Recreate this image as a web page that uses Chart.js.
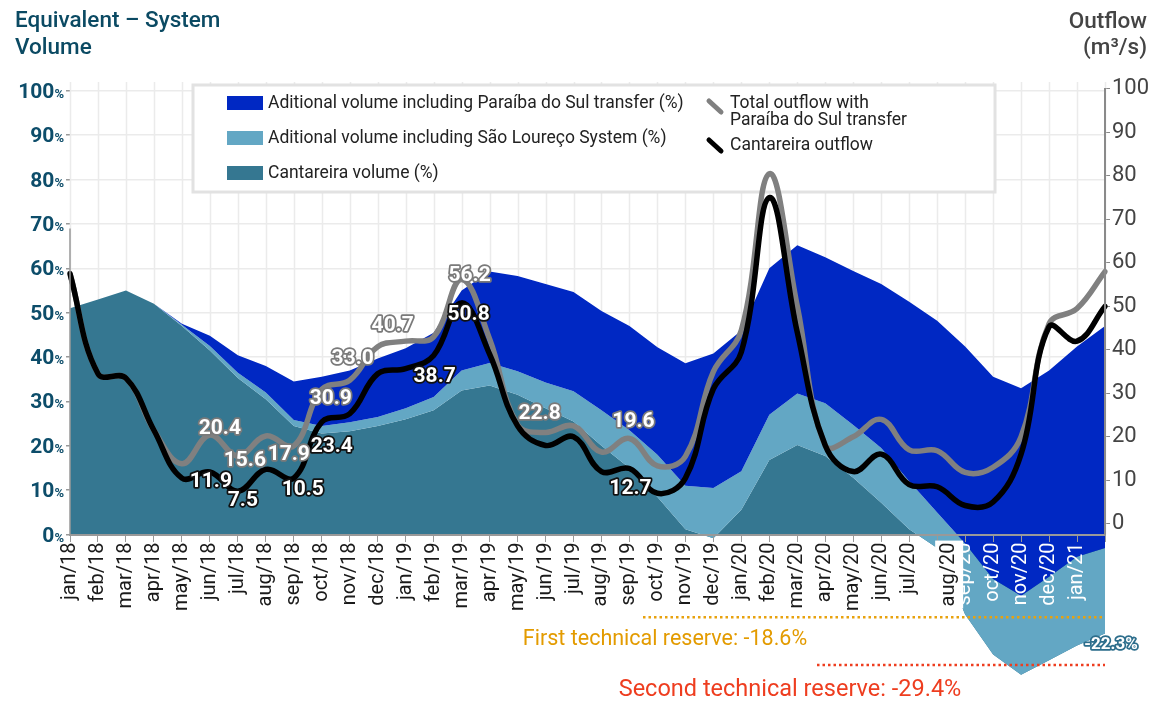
<!DOCTYPE html>
<html>
<head>
<meta charset="utf-8">
<script src="https://cdn.jsdelivr.net/npm/chart.js@4.4.1/dist/chart.umd.min.js"></script>
<style>
  html, body { margin: 0; padding: 0; background: #fff; }
</style>
</head>
<body>
<canvas id="chart" width="1171" height="702"></canvas>
<script>
// months on the x axis (last point has no label in the original)
const months = ['jan/18','feb/18','mar/18','apr/18','may/18','jun/18','jul/18','aug/18','sep/18','oct/18','nov/18','dec/18',
  'jan/19','feb/19','mar/19','apr/19','may/19','jun/19','jul/19','aug/19','sep/19','oct/19','nov/19','dec/19',
  'jan/20','feb/20','mar/20','apr/20','may/20','jun/20','jul/20','aug/20','sep/20','oct/20','nov/20','dec/20',
  'jan/21',''];

// equivalent system volume (%), left axis
const paraibaVolume = [51, 53, 55, 52, 47.5, 44.8, 40.4, 38, 34.5, 35.6, 37, 39.7, 42, 45.5, 55, 59.3, 58.3, 56.5, 54.7, 50.4,
  47, 42.2, 38.6, 40.8, 46, 60, 65.2, 62.5, 59.4, 56.5, 52.5, 48.2, 42.4, 35.6, 33, 37, 42.4, 47];
const saoLourencoVolume = [51, 53, 55, 52, 47.3, 42.5, 36.5, 32, 25.8, 24.5, 25.3, 26.5, 28.5, 31, 37, 38.7, 36.8, 34.3, 32.3, 28,
  23.5, 18, 11, 10.5, 14.3, 27, 31.8, 29.6, 24.7, 19.5, 12, 5, -2, -10, -13.8, -9.5, -5, -3];
const cantareiraVolume = [51, 53, 55, 52, 47, 41.5, 35.3, 30.5, 24.5, 22.8, 23.3, 24.5, 26, 28, 32.5, 33.6, 31.5, 28.5, 25.5, 20,
  15, 8.5, 1.2, -0.8, 5.6, 16.8, 20.2, 17.7, 12.8, 7.2, 1.2, -3, -18, -27, -31.6, -28.3, -25, -22.3];

// outflow (m3/s), right axis
const totalOutflow = [57.5, 34.5, 33.5, 21.5, 13.8, 20.4, 15.6, 20.2, 17.9, 30.9, 33.0, 40.7, 42, 43, 56.2, 42.5, 22.8, 21, 22.5, 16.5,
  19.6, 13.3, 15.5, 35, 44.5, 80.5, 50, 18, 20, 24, 17, 16.8, 11.8, 13, 20, 46, 49.5, 58];
const cantareiraOutflow = [57.5, 34.5, 33.5, 21.5, 10.5, 11.9, 7.5, 12.5, 10.5, 23.4, 25.3, 34.5, 35.7, 38.7, 50.8, 39, 22.5, 18, 20, 12,
  12.7, 7, 10.5, 31, 39.5, 75, 44, 18, 12, 16, 9, 8.5, 4.2, 5, 16, 45.3, 42, 50];

// which points carry a value label
const totalLabelIdx = [5, 6, 8, 9, 10, 11, 14, 16, 20];
const cantareiraLabelIdx = [5, 6, 8, 9, 13, 14, 20];

const axisTicks = [0, 10, 20, 30, 40, 50, 60, 70, 80, 90, 100];
const firstReserve = -18.6;
const secondReserve = -29.4;

// label offsets from their point (px)
const totalLabelOffset = [[10, -6], [7, 5], [-5, 9], [9, 9], [3, -22], [15, -21], [8, -4], [22, -11], [4, -17]];
const cantareiraLabelOffset = [[1, 10], [5, 10], [9, 12], [10, 25], [1, 21], [7, 12], [1, 20]];

const FONT = 'Roboto, "DejaVu Sans", sans-serif';
const DARK_BLUE = '#0028c3';
const LIGHT_BLUE = '#63a7c4';
const TEAL = '#357791';

function outlined(ctx, text, x, y, stroke, font) {
  ctx.font = font;
  ctx.textAlign = 'center';
  ctx.textBaseline = 'middle';
  ctx.lineJoin = 'round';
  ctx.lineWidth = 3.5;
  ctx.strokeStyle = stroke;
  ctx.strokeText(text, x, y);
  ctx.fillStyle = '#fff';
  ctx.fillText(text, x, y);
}

const backdrop = {
  id: 'backdrop',
  beforeDatasetsDraw(chart) {
    const ctx = chart.ctx, ca = chart.chartArea;
    const x = chart.scales.x, y = chart.scales.y;
    const y0 = y.getPixelForValue(0);
    ctx.save();
    // vertical grid, only above the zero line
    ctx.strokeStyle = '#ebebeb';
    ctx.lineWidth = 1.5;
    ctx.beginPath();
    for (let i = 0; i < months.length; i++) {
      const px = Math.round(x.getPixelForValue(i)) + 0.5;
      ctx.moveTo(px, ca.top);
      ctx.lineTo(px, y0);
    }
    ctx.stroke();

    // legend box
    ctx.fillStyle = '#fff';
    ctx.fillRect(193, 85, 802, 107);
    ctx.strokeStyle = '#e2e2e2';
    ctx.lineWidth = 3;
    ctx.strokeRect(193, 85, 802, 107);

    const ds = chart.data.datasets;
    ctx.font = '17.5px ' + FONT;
    ctx.textBaseline = 'middle';
    ctx.textAlign = 'left';
    [[0, 103], [1, 138], [2, 173]].forEach(([i, cy]) => {
      ctx.fillStyle = ds[i].backgroundColor;
      ctx.fillRect(227, cy - 7, 36, 14);
      ctx.fillStyle = '#222';
      ctx.fillText(ds[i].label, 268, cy + 1);
    });
    ctx.lineCap = 'round';
    ctx.lineWidth = 5;
    ctx.strokeStyle = ds[3].borderColor;
    ctx.beginPath(); ctx.moveTo(709, 101); ctx.lineTo(721, 112); ctx.stroke();
    ctx.strokeStyle = ds[4].borderColor;
    ctx.beginPath(); ctx.moveTo(709, 140); ctx.lineTo(721, 151); ctx.stroke();
    ctx.fillStyle = '#222';
    ctx.fillText('Total outflow with', 730, 104);
    ctx.fillText('Paraíba do Sul transfer', 730, 121);
    ctx.fillText(ds[4].label, 730, 146);
    ctx.restore();
  },
  afterDraw(chart) {
    const ctx = chart.ctx, ca = chart.chartArea;
    const y = chart.scales.y, y1 = chart.scales.y1;
    const y0 = y.getPixelForValue(0);
    ctx.save();

    // axis lines
    ctx.strokeStyle = '#8a8a8a';
    ctx.lineWidth = 2;
    ctx.beginPath();
    ctx.moveTo(ca.right, y1.getPixelForValue(100) - 1);
    ctx.lineTo(ca.right, y0);
    ctx.stroke();
    ctx.strokeStyle = '#9a9a9a';
    ctx.lineWidth = 1.5;
    ctx.beginPath();
    ctx.moveTo(ca.left, y.getPixelForValue(69));
    ctx.lineTo(ca.left, y0);
    ctx.stroke();

    // left axis labels: number with a small %
    ctx.textBaseline = 'alphabetic';
    ctx.textAlign = 'right';
    ctx.fillStyle = '#0d4d6a';
    axisTicks.forEach(v => {
      const py = y.getPixelForValue(v);
      ctx.font = 'bold 13px ' + FONT;
      const pw = ctx.measureText('%').width;
      ctx.fillText('%', 64, py + 7);
      ctx.font = 'bold 21px ' + FONT;
      ctx.fillText(String(v), 64 - pw, py + 7);
    });

    // titles
    ctx.font = '500 22.5px ' + FONT;
    ctx.textAlign = 'left';
    ctx.fillStyle = '#0b4a63';
    ctx.fillText('Equivalent – System', 15, 27);
    ctx.fillText('Volume', 15, 54);
    ctx.textAlign = 'right';
    ctx.fillStyle = '#444';
    ctx.fillText('Outflow', 1147, 28);
    ctx.fillText('(m³/s)', 1147, 54);

    // technical reserve lines
    const r1 = y.getPixelForValue(firstReserve);
    const r2 = y.getPixelForValue(secondReserve);
    ctx.setLineDash([2.5, 3]);
    ctx.lineWidth = 2.5;
    ctx.strokeStyle = '#e8a20e';
    ctx.beginPath(); ctx.moveTo(643, r1); ctx.lineTo(ca.right, r1); ctx.stroke();
    ctx.strokeStyle = '#ee3d1f';
    ctx.beginPath(); ctx.moveTo(817, r2); ctx.lineTo(ca.right, r2); ctx.stroke();
    ctx.setLineDash([]);
    ctx.textAlign = 'center';
    ctx.textBaseline = 'middle';
    ctx.font = '21.5px ' + FONT;
    ctx.fillStyle = '#e39b00';
    ctx.fillText('First technical reserve: ' + firstReserve + '%', 665, 640);
    ctx.font = '23.5px ' + FONT;
    ctx.fillStyle = '#ee3d1f';
    ctx.fillText('Second technical reserve: ' + secondReserve + '%', 790, 690);

    // value labels
    const tMeta = chart.getDatasetMeta(3), cMeta = chart.getDatasetMeta(4);
    const lf = 'bold 21px ' + FONT;
    totalLabelIdx.forEach((i, k) => {
      const p = tMeta.data[i];
      outlined(ctx, totalOutflow[i].toFixed(1), p.x + totalLabelOffset[k][0], p.y + totalLabelOffset[k][1], '#7a7a7a', lf);
    });
    cantareiraLabelIdx.forEach((i, k) => {
      const p = cMeta.data[i];
      outlined(ctx, cantareiraOutflow[i].toFixed(1), p.x + cantareiraLabelOffset[k][0], p.y + cantareiraLabelOffset[k][1], '#111', lf);
    });
    const last = cantareiraVolume.length - 1;
    const lp = chart.getDatasetMeta(2).data[last];
    outlined(ctx, cantareiraVolume[last].toFixed(1) + '%', lp.x + 6, lp.y + 11, '#2d6e8c', 'bold 17px ' + FONT);
    ctx.restore();
  }
};

new Chart(document.getElementById('chart'), {
  type: 'line',
  data: {
    labels: months,
    datasets: [
      { label: 'Aditional volume including Paraíba do Sul transfer (%)', data: paraibaVolume, yAxisID: 'y',
        backgroundColor: DARK_BLUE, borderWidth: 0, pointRadius: 0, fill: 1, order: 3 },
      { label: 'Aditional volume including São Loureço System (%)', data: saoLourencoVolume, yAxisID: 'y',
        backgroundColor: LIGHT_BLUE, borderWidth: 0, pointRadius: 0, fill: 2, order: 4 },
      { label: 'Cantareira volume (%)', data: cantareiraVolume, yAxisID: 'y',
        backgroundColor: TEAL, borderWidth: 0, pointRadius: 0, fill: 'origin', order: 5 },
      { label: 'Total outflow with Paraíba do Sul transfer', data: totalOutflow, yAxisID: 'y1',
        borderColor: '#808080', borderWidth: 5.5, pointRadius: 0, tension: 0.4, fill: false, order: 2,
        borderCapStyle: 'round', borderJoinStyle: 'round' },
      { label: 'Cantareira outflow', data: cantareiraOutflow, yAxisID: 'y1',
        borderColor: '#000', borderWidth: 5.5, pointRadius: 0, tension: 0.4, fill: false, order: 1,
        borderCapStyle: 'round', borderJoinStyle: 'round' }
    ]
  },
  options: {
    responsive: false,
    animation: false,
    devicePixelRatio: 1,
    layout: { padding: { top: 82, bottom: 12, left: 0, right: 0 } },
    plugins: { legend: { display: false }, tooltip: { enabled: false } },
    scales: {
      x: {
        type: 'category',
        position: { y: 0 },
        grid: { drawOnChartArea: false, drawTicks: true, tickLength: 6, tickColor: '#999', z: 1 },
        border: { display: true, color: '#999', width: 2, z: 1 },
        ticks: {
          z: 1,
          autoSkip: false, maxRotation: 90, minRotation: 90, padding: 2,
          font: { family: FONT, size: 20 },
          color: c => c.index >= 32 ? '#fff' : '#1a1a1a',
          showLabelBackdrop: c => c.index === 31,
          backdropColor: '#fff',
          backdropPadding: 2
        }
      },
      y: {
        position: 'left',
        min: -34.3, max: 102,
        afterBuildTicks: s => { s.ticks = axisTicks.map(v => ({ value: v })); },
        afterFit: s => { s.width = 70; },
        grid: {
          color: c => c.tick && c.tick.value === 0 ? 'rgba(0,0,0,0)' : '#ebebeb',
          lineWidth: 1.5, drawTicks: true, tickLength: 4, tickColor: '#999'
        },
        border: { display: false },
        ticks: { display: false }
      },
      y1: {
        position: 'right',
        min: -37.5, max: 101.6,
        afterBuildTicks: s => { s.ticks = axisTicks.map(v => ({ value: v })); },
        afterFit: s => { s.width = 66; },
        grid: { drawOnChartArea: false, drawTicks: true, tickLength: 5, tickColor: '#888' },
        border: { display: false },
        ticks: { font: { family: FONT, size: 22 }, color: '#444', padding: 2 }
      }
    }
  },
  plugins: [backdrop]
});
</script>
</body>
</html>
